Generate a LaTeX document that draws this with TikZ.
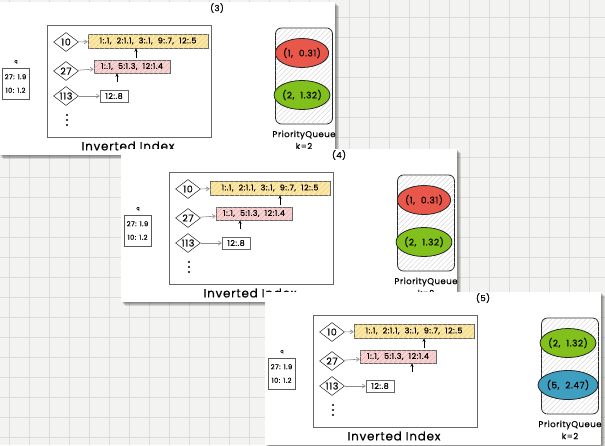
\documentclass[tikz,border=0pt]{standalone}
\usepackage{fontspec}
\setmainfont{Poppins}[FakeBold=0.4, LetterSpace=6]
\usetikzlibrary{shapes.geometric,arrows.meta,patterns.meta}
\definecolor{bgc}{HTML}{F3F3F1}
\definecolor{gridc}{HTML}{DCDCDA}
\definecolor{yelc}{HTML}{FBE7A6}
\definecolor{yelh}{HTML}{E8C870}
\definecolor{pinkc}{HTML}{F7D2D2}
\definecolor{pinkh}{HTML}{E6A8A8}
\definecolor{redE}{HTML}{E9574A}
\definecolor{greenE}{HTML}{82C11B}
\definecolor{blueE}{HTML}{3E9FC0}
\tikzset{
 ibox/.style={draw=black!60, line width=0.6pt, inner sep=0pt},
 keyd/.style={diamond, aspect=1.25, draw=black!85, fill=white, line width=0.5pt, minimum width=25pt, minimum height=19pt, inner sep=0pt, font=\fontsize{9.5}{10}\selectfont},
 plist/.style={draw=black!60, line width=0.5pt, inner sep=0pt, font=\fontsize{7.9}{9}\selectfont},
 hatch/.style={postaction={pattern={Lines[angle=45,distance=3.5pt,line width=0.35pt]}, pattern color=#1}},
 garrow/.style={-{Straight Barb[length=3pt,width=4pt]}, draw=black!45, line width=0.6pt},
 uparrow/.style={-{Stealth[length=3.5pt,width=3pt]}, line width=0.8pt},
 pqbox/.style={draw=black!85, line width=0.8pt, rounded corners=6pt, fill=white, inner sep=0pt},
 pqel/.style={ellipse, draw=black!85, line width=0.8pt, minimum width=42pt, minimum height=29pt, inner sep=0pt, font=\fontsize{9}{9}\selectfont},
 lbl/.style={font=\fontsize{8.5}{9}\selectfont, inner sep=0pt},
 qbox/.style={draw=black!65, line width=0.5pt, fill=white, minimum width=27pt, minimum height=31pt, inner sep=0pt, align=center, font=\fontsize{6.8}{7}\selectfont},
}
% #1 prefix, #2 label, #3 yellow arrow x, #4 pink arrow x, #5 e1 text, #6 e1 colour, #7 e2 text, #8 e2 colour
\newcommand\idxpanel[8]{%
  \foreach \k in {1,...,4} \fill[black,opacity=0.13] (-1+\k,2+\k) rectangle (335+\k,155+\k);
  \fill[white] (-1,2) rectangle (335,155);
  \node[lbl] (#1lab) at (217,8) {#2};
  \node[lbl, font=\fontsize{4.5}{4}\selectfont] (#1q) at (16,62) {q};
  \node[qbox] (#1qb) at (15.5,83.5) {27: 1.9\\[6.5pt]10: 1.2};
  \node[ibox, minimum width=164pt, minimum height=112pt] (#1ibox) at (129,81) {};
  \node[font=\fontsize{12}{12}\selectfont, inner sep=0pt] (#1ititle) at (128,146) {Inverted Index};
  \node[keyd] (#1k10) at (66,42) {10};
  \node[keyd] (#1k27) at (66,71) {27};
  \node[keyd] (#1k113) at (66,96) {113};
  \node[plist, fill=yelc, hatch=yelh, minimum width=120pt, minimum height=14pt] (#1yel) at (148,41) {1:.1,\ \ 2:1.1,\ \ 3:.1,\ \ 9:.7,\ \ 12:.5};
  \node[plist, fill=pinkc, hatch=pinkh, minimum width=76pt, minimum height=13pt] (#1pk) at (132,66.5) {1:.1,\ \ 5:1.3,\ \ 12:1.4};
  \node[plist, fill=white, minimum width=28pt, minimum height=12pt] (#1wb) at (114,96) {12:.8};
  \draw[garrow] (#1k10) -- (#1yel);
  \draw[garrow] (#1k27) -- (#1pk);
  \draw[garrow] (#1k113) -- (#1wb);
  \coordinate (#1ya) at (#3,58);
  \coordinate (#1pa) at (#4,82);
  \draw[uparrow] (#1ya) -- (#1ya |- #1yel.south);
  \draw[uparrow] (#1pa) -- (#1pa |- #1pk.south);
  \foreach \yy in {115,120,125} \fill (67,\yy) circle (1.1pt);
  \node[pqbox, minimum width=57pt, minimum height=96pt, hatch=black!20] (#1pq) at (304,76) {};
  \node[pqel, fill=#6] (#1e1) at (302,53) {#5};
  \node[pqel, fill=#8] (#1e2) at (302,95) {#7};
  \node[lbl] (#1pqt) at (304,135) {PriorityQueue};
  \node[lbl] (#1pqk) at (304,146) {k=2};
}
\begin{document}
\begin{tikzpicture}[x=1pt,y=-1pt]
\useasboundingbox (0,0) rectangle (605,445);
\clip (0,0) rectangle (605,445);
\fill[bgc] (0,0) rectangle (605,445);
\foreach \x in {9,29,...,600} \draw[gridc, line width=0.5pt] (\x,0) -- (\x,445);
\foreach \y in {17,37,...,440} \draw[gridc, line width=0.5pt] (0,\y) -- (605,\y);
\begin{scope}
  \idxpanel{a}{(3)}{136}{117}{(1,\ \ 0.31)}{redE}{(2,\ \ 1.32)}{greenE}
\end{scope}
\begin{scope}[shift={(122,147)}]
  \idxpanel{b}{(4)}{158}{118}{(1,\ \ 0.31)}{redE}{(2,\ \ 1.32)}{greenE}
\end{scope}
\begin{scope}[shift={(266,290)}]
  \idxpanel{c}{(5)}{158}{146}{(2,\ \ 1.32)}{greenE}{(5,\ \ 2.47)}{blueE}
\end{scope}
\end{tikzpicture}
\end{document}
